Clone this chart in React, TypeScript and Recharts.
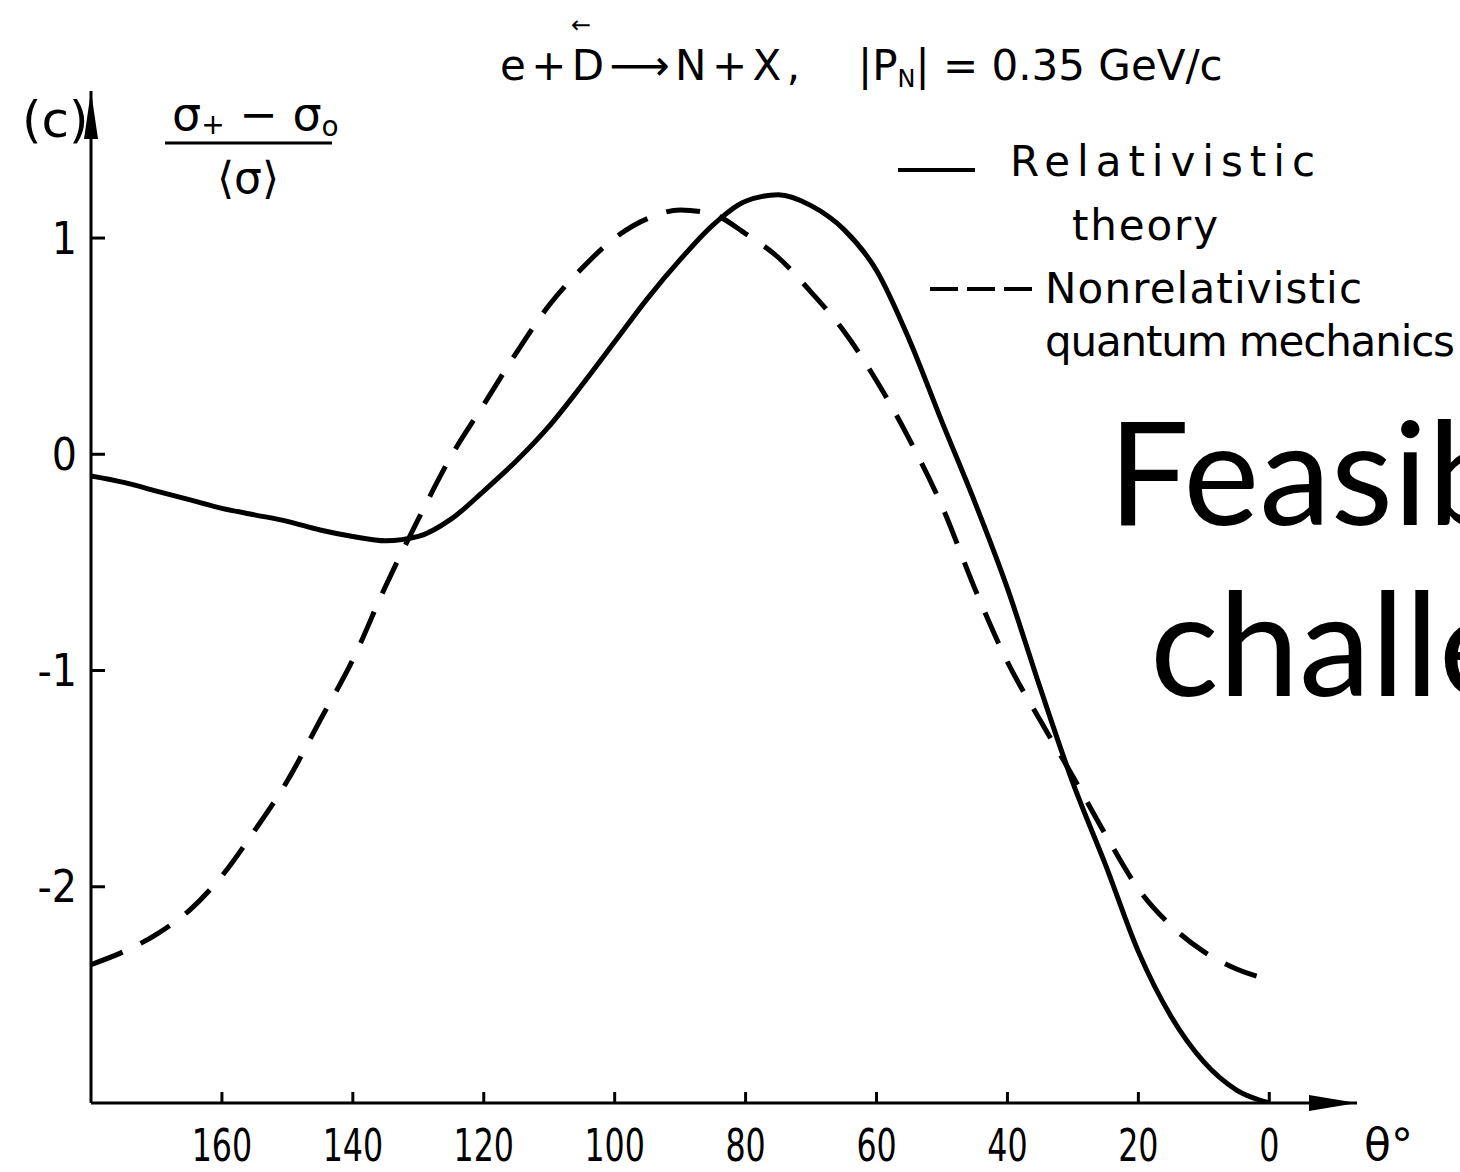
import React from 'react';
import { LineChart, Line, XAxis, YAxis, Legend, ReferenceDot } from 'recharts';

// ---- data ----
const THETA = [180, 175, 170, 165, 160, 155, 150, 145, 140, 135, 130, 125, 120, 115, 110, 105, 100, 95, 90, 85, 80, 75, 70, 65, 60, 55, 50, 45, 40, 35, 30, 25, 20, 15, 10, 5, 0];
const RELATIVISTIC = [-0.10, -0.13, -0.17, -0.21, -0.25, -0.28, -0.31, -0.35, -0.38, -0.40, -0.38, -0.30, -0.17, -0.03, 0.13, 0.32, 0.52, 0.72, 0.90, 1.06, 1.17, 1.20, 1.15, 1.04, 0.85, 0.53, 0.15, -0.22, -0.62, -1.08, -1.52, -1.90, -2.30, -2.60, -2.81, -2.94, -3.00];
const NONRELATIVISTIC = [-2.36, -2.30, -2.22, -2.11, -1.95, -1.74, -1.51, -1.23, -0.95, -0.61, -0.30, -0.01, 0.23, 0.47, 0.69, 0.86, 1.00, 1.09, 1.13, 1.11, 1.02, 0.91, 0.75, 0.57, 0.34, 0.07, -0.24, -0.62, -0.96, -1.23, -1.49, -1.76, -2.01, -2.18, -2.30, -2.38, -2.43];
const X_TICKS = [160, 140, 120, 100, 80, 60, 40, 20, 0];
const Y_TICKS = [1, 0, -1, -2];
const X_DOMAIN: [number, number] = [-13.4, 180];
const Y_DOMAIN: [number, number] = [-3, 1.68];
const SERIES = [
  { key: 'relativistic', lines: ['Relativistic', 'theory'] },
  { key: 'nonrelativistic', lines: ['Nonrelativistic', 'quantum mechanics'] },
];

const data = THETA.map((t, i) => ({ theta: t, relativistic: RELATIVISTIC[i], nonrelativistic: NONRELATIVISTIC[i] }));

const W = 1460;
const H = 1172;
const HAND = "'DejaVu Sans', 'Liberation Sans', sans-serif";
const TICK_FONT = "'Liberation Sans Narrow', 'DejaVu Sans Condensed', 'DejaVu Sans', sans-serif";

const YTick = (props: any) => {
  const { x, y, payload } = props;
  return (
    <g>
      <line x1={x} y1={y} x2={x + 14} y2={y} stroke="#000" strokeWidth={3} />
      <text x={x - 14} y={y} textAnchor="end" dominantBaseline="central" fontFamily={TICK_FONT} fontSize={44} fill="#000">
        {String(payload.value)}
      </text>
    </g>
  );
};

const XTick = (props: any) => {
  const { x, y, payload } = props;
  return (
    <g>
      <line x1={x} y1={y} x2={x} y2={y - 11} stroke="#000" strokeWidth={3} />
      <text
        transform={`translate(${x} ${y + 58}) scale(0.8 1)`}
        x={0}
        y={0}
        textAnchor="middle"
        fontFamily={TICK_FONT}
        fontSize={44}
        fill="#000"
      >
        {String(payload.value)}
      </text>
    </g>
  );
};

const LEGEND_POS: Record<string, { sample: [number, number, number]; dash?: string; text: [number, number, number][] }> = {
  relativistic: { sample: [898, 975, 170], text: [[1010, 176, 305], [1072, 240, 146]] },
  nonrelativistic: { sample: [930, 1038, 289], dash: '28 9', text: [[1045, 303, 317], [1045, 356, 410]] },
};

const renderLegend = (props: any) => {
  const payload = props.payload || [];
  return (
    <svg width={W} height={H} style={{ display: 'block' }}>
      {payload.map((entry: any) => {
        const key = entry.dataKey as string;
        const pos = LEGEND_POS[key];
        const s = SERIES.find((q) => q.key === key);
        if (!pos || !s) return null;
        return (
          <g key={key}>
            <line x1={pos.sample[0]} y1={pos.sample[2]} x2={pos.sample[1]} y2={pos.sample[2]} stroke="#000" strokeWidth={4} strokeDasharray={pos.dash} />
            {s.lines.map((ln, i) => (
              <text key={i} x={pos.text[i][0]} y={pos.text[i][1]} fontFamily={HAND} fontSize={42} fill="#000" textLength={pos.text[i][2]} lengthAdjust="spacing">
                {ln}
              </text>
            ))}
          </g>
        );
      })}
    </svg>
  );
};

const XArrow = (p: any) => (
  <path d={`M${p.cx},${p.cy} L${p.cx - 48},${p.cy - 8} L${p.cx - 48},${p.cy + 8} Z`} fill="#000" />
);
const YArrow = (p: any) => (
  <path d={`M${p.cx},${p.cy} L${p.cx - 7},${p.cy + 48} L${p.cx + 7},${p.cy + 48} Z`} fill="#000" />
);

export default function App() {
  return (
    <div style={{ position: 'absolute', left: 0, top: 0, width: W, height: H, background: '#fff', overflow: 'hidden' }}>
      <LineChart width={W} height={H} data={data} margin={{ top: 91, right: 103, bottom: 68, left: 90 }}>
        <XAxis
          dataKey="theta"
          type="number"
          domain={X_DOMAIN}
          reversed
          ticks={X_TICKS}
          interval={0}
          height={1}
          tickSize={0}
          tickMargin={0}
          tickLine={false}
          tick={<XTick />}
          axisLine={{ stroke: '#000', strokeWidth: 3 }}
          allowDataOverflow
        />
        <YAxis
          type="number"
          domain={Y_DOMAIN}
          ticks={Y_TICKS}
          interval={0}
          width={1}
          tickSize={0}
          tickMargin={0}
          tickLine={false}
          tick={<YTick />}
          axisLine={{ stroke: '#000', strokeWidth: 3 }}
          allowDataOverflow
        />
        <Line
          dataKey="relativistic"
          name="Relativistic theory"
          type="monotone"
          stroke="#000"
          strokeWidth={5}
          dot={false}
          activeDot={false}
          isAnimationActive={false}
        />
        <Line
          dataKey="nonrelativistic"
          name="Nonrelativistic quantum mechanics"
          type="monotone"
          stroke="#000"
          strokeWidth={5}
          strokeDasharray="34 20"
          dot={false}
          activeDot={false}
          isAnimationActive={false}
        />
        <ReferenceDot x={X_DOMAIN[0]} y={Y_DOMAIN[0]} r={0} ifOverflow="visible" shape={XArrow} />
        <ReferenceDot x={X_DOMAIN[1]} y={Y_DOMAIN[1]} r={0} ifOverflow="visible" shape={YArrow} />
        <Legend
          layout="horizontal"
          verticalAlign="middle"
          align="center"
          content={renderLegend}
          wrapperStyle={{ left: 0, top: 0, width: W, height: H, pointerEvents: 'none' }}
        />
      </LineChart>
      <svg width={W} height={H} style={{ position: 'absolute', left: 0, top: 0, pointerEvents: 'none' }}>
        {/* title */}
        <text x={500} y={80} fontFamily={HAND} fontSize={42} fill="#000" textLength={300} lengthAdjust="spacing">
          e + D ⟶ N + X ,
        </text>
        <text x={571} y={33} fontFamily={HAND} fontSize={24} fill="#000">←</text>
        <text x={858} y={80} fontFamily={HAND} fontSize={42} fill="#000">
          |P<tspan fontSize={24} dy={7}>N</tspan>
          <tspan dy={-7}>| = 0.35 GeV/c</tspan>
        </text>
        {/* panel label */}
        <text x={22} y={137} fontFamily={HAND} fontSize={50} fill="#000">(c)</text>
        {/* y-axis quantity */}
        <text x={172} y={130} fontFamily={HAND} fontSize={46} fill="#000">
          σ<tspan fontSize={28} dy={4}>+</tspan>
          <tspan dy={-4}> − σ</tspan>
          <tspan fontSize={28} dy={6}>o</tspan>
        </text>
        <line x1={165} y1={143} x2={332} y2={143} stroke="#000" strokeWidth={3} />
        <text x={248} y={193} textAnchor="middle" fontFamily={HAND} fontSize={44} fill="#000">⟨σ⟩</text>
        {/* x-axis quantity */}
        <text x={1364} y={1160} fontFamily={HAND} fontSize={44} fill="#000">θ°</text>
        {/* overlay slide text */}
        <text x={1108} y={525} fontFamily="Lato, 'Open Sans', sans-serif" fontSize={144} fill="#000">Feasib</text>
        <text x={1150} y={696} fontFamily="Lato, 'Open Sans', sans-serif" fontSize={144} fill="#000">challe</text>
      </svg>
    </div>
  );
}
